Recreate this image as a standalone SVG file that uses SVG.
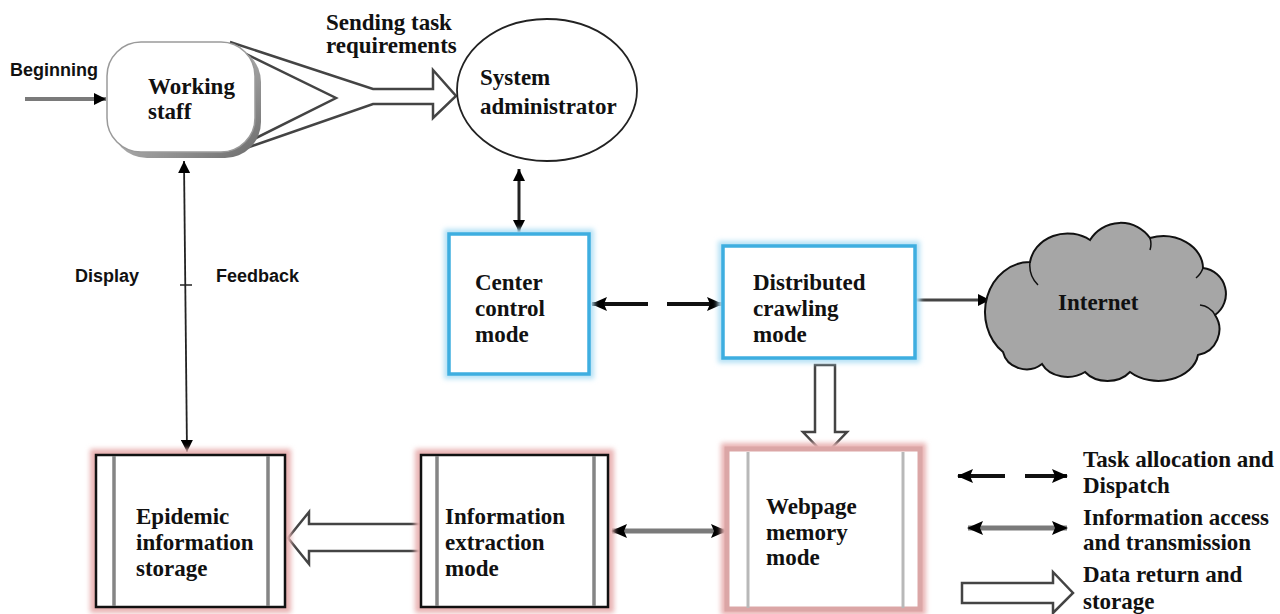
<svg xmlns="http://www.w3.org/2000/svg" width="1280" height="614" viewBox="0 0 1280 614">
<style>
.t{font-family:"Liberation Serif","Times New Roman",serif;font-weight:bold;font-size:23px;fill:#111}
.s{font-family:"Liberation Sans",Arial,sans-serif;font-weight:bold;font-size:18px;fill:#111}
.blueglow{fill:none;stroke:#b5e1f5;stroke-width:10;filter:url(#blur)}
.blue{fill:#fff;stroke:#3eaee0;stroke-width:3.5}
.pinkglow{fill:none;stroke:#e9b3b3;stroke-width:12;filter:url(#blur)}
.box{fill:#fff;stroke:#111;stroke-width:2.5}
.bar{stroke:#858585;stroke-width:3.5}
.hollow{fill:#fff;stroke:#444;stroke-width:2.5;stroke-linejoin:miter}
.blk{stroke:#111;stroke-width:4;fill:none}
.gry{stroke:#7a7a7a;stroke-width:5;fill:none}
.thin{stroke:#222;stroke-width:2;fill:none}
</style>
<defs>
<filter id="blur" x="-20%" y="-20%" width="140%" height="140%"><feGaussianBlur stdDeviation="2.5"/></filter>
<marker id="ah" markerUnits="userSpaceOnUse" markerWidth="16" markerHeight="14" refX="15" refY="7" orient="auto-start-reverse">
<path d="M0,0 L16,7 L0,14 L3,7 z" fill="#000"/>
</marker>
<marker id="ahs" markerUnits="userSpaceOnUse" markerWidth="12" markerHeight="12" refX="12" refY="6" orient="auto-start-reverse">
<path d="M0,0 L12,6 L0,12 z" fill="#000"/>
</marker>
<linearGradient id="gs" x1="0" y1="0" x2="1" y2="1">
<stop offset="0" stop-color="#e6e6e6"/>
<stop offset="1" stop-color="#6a6a6a"/>
</linearGradient>
</defs>
<rect width="1280" height="614" fill="#fff"/>

<g id="connectors">
<line x1="25" y1="99" x2="106" y2="99" class="gry" style="stroke-width:4" marker-end="url(#ahs)"/>
<path class="hollow" d="M230,42 L373,89 L433,89 L433,70 L456,96 L433,118 L433,104 L373,104 L232,153"/>
<path class="thin" style="stroke:#444;stroke-width:2.5" d="M234,48 L336,98 L236,148"/>
<line x1="519" y1="169" x2="519" y2="232" class="thin" style="stroke-width:3" marker-start="url(#ahs)" marker-end="url(#ahs)"/>
<line x1="648" y1="304" x2="592" y2="304" class="blk" marker-end="url(#ah)"/>
<line x1="667" y1="304" x2="722" y2="304" class="blk" marker-end="url(#ah)"/>
<line x1="915" y1="300" x2="990" y2="300" class="thin" style="stroke:#444;stroke-width:3" marker-end="url(#ahs)"/>
<path class="hollow" d="M815,365 L835,365 L835,432 L847,432 L825,455 L803,432 L815,432 z"/>
<line x1="184" y1="161" x2="187" y2="452" class="thin" style="stroke-width:1.8" marker-start="url(#ahs)" marker-end="url(#ahs)"/>
<line x1="180" y1="285" x2="192" y2="285" class="thin" style="stroke-width:1.5"/>
<path class="hollow" d="M420,524 L309,524 L309,512 L288,538 L309,564 L309,551 L420,551"/>
<line x1="612" y1="531" x2="726" y2="531" class="gry" marker-start="url(#ah)" marker-end="url(#ah)"/>
</g>

<g id="working-staff">
<rect x="111" y="46" width="150" height="112" rx="36" ry="36" fill="url(#gs)"/>
<rect x="107" y="42" width="148" height="110" rx="34" ry="34" fill="#fff" stroke="#9a9a9a" stroke-width="1.5"/>
<text class="t" x="148" y="94">Working</text>
<text class="t" x="148" y="119">staff</text>
</g>

<g id="beginning"><text class="s" x="10" y="76">Beginning</text></g>
<g id="sending-label">
<text class="t" x="326" y="30">Sending task</text>
<text class="t" x="326" y="53">requirements</text>
</g>

<g id="system-administrator">
<ellipse cx="547" cy="90" rx="90" ry="71" fill="#fff" stroke="#222" stroke-width="1.8"/>
<text class="t" x="480" y="85">System</text>
<text class="t" x="480" y="114">administrator</text>
</g>

<g id="display-feedback">
<text class="s" x="75" y="282">Display</text>
<text class="s" x="216" y="282">Feedback</text>
</g>

<g id="center-control">
<rect class="blueglow" x="449" y="234" width="140" height="140"/>
<rect class="blue" x="449" y="234" width="140" height="140"/>
<text class="t" x="475" y="290">Center</text>
<text class="t" x="475" y="316">control</text>
<text class="t" x="475" y="342">mode</text>
</g>

<g id="distributed-crawling">
<rect class="blueglow" x="723" y="246" width="192" height="112"/>
<rect class="blue" x="723" y="246" width="192" height="112"/>
<text class="t" x="753" y="290">Distributed</text>
<text class="t" x="753" y="316">crawling</text>
<text class="t" x="753" y="342">mode</text>
</g>

<g id="internet">
<path fill="#a6a6a6" stroke="#111" stroke-width="2" d="M1003,352 A45,50 0 0 1 1030,262 A38,34 0 0 1 1090,240 A36,36 0 0 1 1150,238 A40,32 0 0 1 1203,268 A26,26 0 0 1 1215,315 A26,26 0 0 1 1198,355 A40,30 0 0 1 1130,372 A28,22 0 0 1 1085,372 A28,22 0 0 1 1042,364 A24,22 0 0 1 1003,352 z"/>
<path fill="none" stroke="#111" stroke-width="1.5" d="M1030,262 A28,28 0 0 0 1038,285 M1150,238 A20,20 0 0 1 1150,250 M1203,268 A22,22 0 0 1 1196,278 M1215,315 A20,20 0 0 0 1200,305"/>
<text class="t" x="1058" y="310">Internet</text>
</g>

<g id="epidemic-storage">
<rect class="pinkglow" x="96" y="455" width="189" height="152"/>
<rect class="box" x="96" y="455" width="189" height="152"/>
<line class="bar" x1="114" y1="456" x2="114" y2="606"/>
<line class="bar" x1="268" y1="456" x2="268" y2="606"/>
<text class="t" x="136" y="524">Epidemic</text>
<text class="t" x="136" y="550">information</text>
<text class="t" x="136" y="576">storage</text>
</g>

<g id="information-extraction">
<rect class="pinkglow" x="421" y="455" width="187" height="152"/>
<rect class="box" x="421" y="455" width="187" height="152"/>
<line class="bar" x1="437" y1="456" x2="437" y2="606"/>
<line class="bar" x1="594" y1="456" x2="594" y2="606"/>
<text class="t" x="445" y="524">Information</text>
<text class="t" x="445" y="550">extraction</text>
<text class="t" x="445" y="576">mode</text>
</g>

<g id="webpage-memory">
<rect class="pinkglow" x="727" y="449" width="193" height="160"/>
<rect x="727" y="449" width="193" height="160" fill="#fff" stroke="#dba6a6" stroke-width="5"/>
<line x1="748" y1="452" x2="748" y2="608" stroke="#b8b8b8" stroke-width="3"/>
<line x1="903" y1="452" x2="903" y2="608" stroke="#b8b8b8" stroke-width="3"/>
<text class="t" x="766" y="514">Webpage</text>
<text class="t" x="766" y="540">memory</text>
<text class="t" x="766" y="565">mode</text>
</g>

<g id="legend">
<line x1="1005" y1="476" x2="958" y2="476" class="blk" marker-end="url(#ah)"/>
<line x1="1025" y1="476" x2="1067" y2="476" class="blk" marker-end="url(#ah)"/>
<line x1="968" y1="528" x2="1067" y2="528" class="gry" marker-start="url(#ah)" marker-end="url(#ah)"/>
<path class="hollow" d="M962,583 L1053,583 L1053,572 L1073,593 L1053,613 L1053,603 L962,603 z"/>
<text class="t" x="1083" y="467">Task allocation and</text>
<text class="t" x="1083" y="493">Dispatch</text>
<text class="t" x="1083" y="525">Information access</text>
<text class="t" x="1083" y="550">and transmission</text>
<text class="t" x="1083" y="582">Data return and</text>
<text class="t" x="1083" y="609">storage</text>
</g>
</svg>
